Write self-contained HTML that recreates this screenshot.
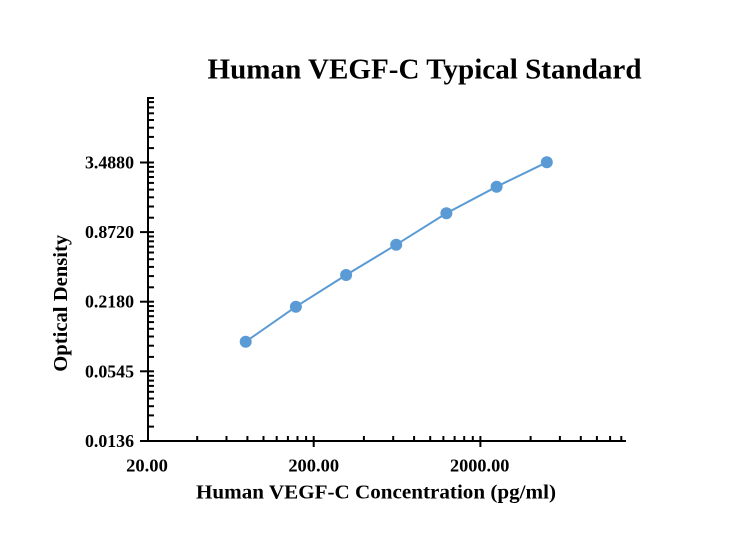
<!DOCTYPE html>
<html>
<head>
<meta charset="utf-8">
<style>
  html, body { margin: 0; padding: 0; background: #ffffff; }
  svg { display: block; }
  text { font-family: "Liberation Serif", "Times New Roman", serif; font-weight: bold; fill: #000; }
</style>
</head>
<body>
<svg width="737" height="553" viewBox="0 0 737 553" xmlns="http://www.w3.org/2000/svg">
  <rect x="0" y="0" width="737" height="553" fill="#ffffff"/>

  <text x="424.5" y="78.5" font-size="28.5" text-anchor="middle" textLength="434" lengthAdjust="spacingAndGlyphs">Human VEGF-C Typical Standard</text>

  <g stroke="#000" stroke-width="2" fill="none">
    <line x1="148" y1="97" x2="148" y2="442"/>
    <line x1="147" y1="441" x2="626" y2="441"/>
  </g>

  <g stroke="#000" stroke-width="2">
    <line x1="140" y1="441" x2="154" y2="441"/>
    <line x1="140" y1="371.3" x2="154" y2="371.3"/>
    <line x1="140" y1="301.7" x2="154" y2="301.7"/>
    <line x1="140" y1="232.1" x2="154" y2="232.1"/>
    <line x1="140" y1="162.5" x2="154" y2="162.5"/>
  </g>

  <g stroke="#000" stroke-width="2">
    <line x1="148" y1="426.6" x2="154" y2="426.6"/>
    <line x1="148" y1="415.4" x2="154" y2="415.4"/>
    <line x1="148" y1="406.2" x2="154" y2="406.2"/>
    <line x1="148" y1="398.5" x2="154" y2="398.5"/>
    <line x1="148" y1="391.8" x2="154" y2="391.8"/>
    <line x1="148" y1="385.9" x2="154" y2="385.9"/>
    <line x1="148" y1="380.6" x2="154" y2="380.6"/>
    <line x1="148" y1="375.8" x2="154" y2="375.8"/>
    <line x1="148" y1="356.9" x2="154" y2="356.9"/>
    <line x1="148" y1="345.7" x2="154" y2="345.7"/>
    <line x1="148" y1="336.5" x2="154" y2="336.5"/>
    <line x1="148" y1="328.8" x2="154" y2="328.8"/>
    <line x1="148" y1="322.1" x2="154" y2="322.1"/>
    <line x1="148" y1="316.2" x2="154" y2="316.2"/>
    <line x1="148" y1="310.9" x2="154" y2="310.9"/>
    <line x1="148" y1="306.1" x2="154" y2="306.1"/>
    <line x1="148" y1="287.3" x2="154" y2="287.3"/>
    <line x1="148" y1="276.1" x2="154" y2="276.1"/>
    <line x1="148" y1="266.9" x2="154" y2="266.9"/>
    <line x1="148" y1="259.2" x2="154" y2="259.2"/>
    <line x1="148" y1="252.5" x2="154" y2="252.5"/>
    <line x1="148" y1="246.6" x2="154" y2="246.6"/>
    <line x1="148" y1="241.3" x2="154" y2="241.3"/>
    <line x1="148" y1="236.5" x2="154" y2="236.5"/>
    <line x1="148" y1="217.7" x2="154" y2="217.7"/>
    <line x1="148" y1="206.5" x2="154" y2="206.5"/>
    <line x1="148" y1="197.3" x2="154" y2="197.3"/>
    <line x1="148" y1="189.6" x2="154" y2="189.6"/>
    <line x1="148" y1="182.9" x2="154" y2="182.9"/>
    <line x1="148" y1="177.0" x2="154" y2="177.0"/>
    <line x1="148" y1="171.7" x2="154" y2="171.7"/>
    <line x1="148" y1="166.9" x2="154" y2="166.9"/>
    <line x1="148" y1="148.1" x2="154" y2="148.1"/>
    <line x1="148" y1="136.9" x2="154" y2="136.9"/>
    <line x1="148" y1="127.7" x2="154" y2="127.7"/>
    <line x1="148" y1="120.0" x2="154" y2="120.0"/>
    <line x1="148" y1="113.3" x2="154" y2="113.3"/>
    <line x1="148" y1="107.4" x2="154" y2="107.4"/>
    <line x1="148" y1="102.1" x2="154" y2="102.1"/>
    <line x1="148" y1="98" x2="154" y2="98"/>
  </g>

  <g stroke="#000" stroke-width="2">
    <line x1="313.7" y1="436" x2="313.7" y2="447"/>
    <line x1="480.4" y1="436" x2="480.4" y2="447"/>
  </g>

  <g stroke="#000" stroke-width="2">
    <line x1="197.2" y1="441" x2="197.2" y2="436"/>
    <line x1="226.5" y1="441" x2="226.5" y2="436"/>
    <line x1="247.4" y1="441" x2="247.4" y2="436"/>
    <line x1="263.5" y1="441" x2="263.5" y2="436"/>
    <line x1="276.7" y1="441" x2="276.7" y2="436"/>
    <line x1="287.9" y1="441" x2="287.9" y2="436"/>
    <line x1="297.5" y1="441" x2="297.5" y2="436"/>
    <line x1="306.1" y1="441" x2="306.1" y2="436"/>
    <line x1="363.9" y1="441" x2="363.9" y2="436"/>
    <line x1="393.2" y1="441" x2="393.2" y2="436"/>
    <line x1="414.1" y1="441" x2="414.1" y2="436"/>
    <line x1="430.2" y1="441" x2="430.2" y2="436"/>
    <line x1="443.4" y1="441" x2="443.4" y2="436"/>
    <line x1="454.6" y1="441" x2="454.6" y2="436"/>
    <line x1="464.2" y1="441" x2="464.2" y2="436"/>
    <line x1="472.8" y1="441" x2="472.8" y2="436"/>
    <line x1="530.6" y1="441" x2="530.6" y2="436"/>
    <line x1="559.9" y1="441" x2="559.9" y2="436"/>
    <line x1="580.8" y1="441" x2="580.8" y2="436"/>
    <line x1="596.9" y1="441" x2="596.9" y2="436"/>
    <line x1="610.1" y1="441" x2="610.1" y2="436"/>
    <line x1="621.3" y1="441" x2="621.3" y2="436"/>
  </g>

  <g font-size="18" text-anchor="end">
    <text x="134" y="447" textLength="49" lengthAdjust="spacingAndGlyphs">0.0136</text>
    <text x="134" y="377.3" textLength="49" lengthAdjust="spacingAndGlyphs">0.0545</text>
    <text x="134" y="307.7" textLength="49" lengthAdjust="spacingAndGlyphs">0.2180</text>
    <text x="134" y="238.1" textLength="49" lengthAdjust="spacingAndGlyphs">0.8720</text>
    <text x="134" y="168.5" textLength="49" lengthAdjust="spacingAndGlyphs">3.4880</text>
  </g>

  <g font-size="18" text-anchor="middle">
    <text x="147" y="471.5" textLength="41.7" lengthAdjust="spacingAndGlyphs">20.00</text>
    <text x="313.7" y="471.5" textLength="50.7" lengthAdjust="spacingAndGlyphs">200.00</text>
    <text x="479.7" y="471.5" textLength="59.3" lengthAdjust="spacingAndGlyphs">2000.00</text>
  </g>

  <text x="376" y="498.5" font-size="19.5" text-anchor="middle" textLength="360" lengthAdjust="spacingAndGlyphs">Human VEGF-C  Concentration (pg/ml)</text>
  <text transform="translate(67,303.3) rotate(-90)" x="0" y="0" font-size="20" text-anchor="middle" textLength="137" lengthAdjust="spacingAndGlyphs">Optical Density</text>

  <polyline fill="none" stroke="#5b9bd5" stroke-width="2"
    points="245.7,341.7 295.9,306.7 346.1,275 396.2,244.7 446.4,213.3 496.6,186.7 546.8,162.3"/>
  <g fill="#5b9bd5">
    <circle cx="245.7" cy="341.7" r="6"/>
    <circle cx="295.9" cy="306.7" r="6"/>
    <circle cx="346.1" cy="275" r="6"/>
    <circle cx="396.2" cy="244.7" r="6"/>
    <circle cx="446.4" cy="213.3" r="6"/>
    <circle cx="496.6" cy="186.7" r="6"/>
    <circle cx="546.8" cy="162.3" r="6"/>
  </g>
</svg>
</body>
</html>
